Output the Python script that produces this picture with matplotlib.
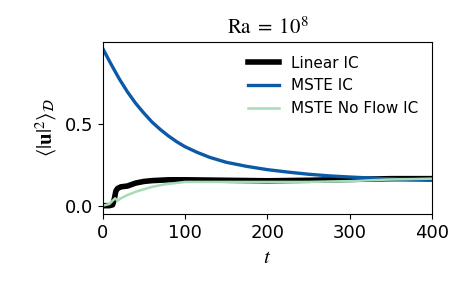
import matplotlib
matplotlib.use("Agg")
import matplotlib.pyplot as plt

plt.rcParams["mathtext.fontset"] = "stix"

# values
t_lin = [0, 8, 12, 14, 16, 18, 22, 30, 40, 50, 60, 80, 100, 150, 200, 250, 300, 350, 400]
u_lin = [0.0, 0.0, 0.005, 0.04, 0.09, 0.105, 0.115, 0.12, 0.138, 0.148, 0.153, 0.158, 0.158, 0.155, 0.152, 0.155, 0.16, 0.165, 0.165]

t_mste = [0, 10, 20, 30, 40, 50, 60, 70, 80, 90, 100, 115, 130, 150, 175, 200, 225, 250, 275, 300, 350, 400]
u_mste = [0.96, 0.865, 0.775, 0.695, 0.625, 0.565, 0.51, 0.465, 0.425, 0.39, 0.36, 0.325, 0.295, 0.265, 0.24, 0.22, 0.205, 0.192, 0.182, 0.175, 0.163, 0.155]

t_noflow = [0, 8, 12, 15, 18, 22, 30, 40, 50, 60, 75, 100, 150, 200, 250, 300, 350, 400]
u_noflow = [0.0, 0.01, 0.03, 0.045, 0.03, 0.045, 0.065, 0.085, 0.10, 0.115, 0.13, 0.145, 0.145, 0.145, 0.145, 0.15, 0.16, 0.165]

fig, ax = plt.subplots(figsize=(4.67, 2.89), dpi=100)
ax.plot(t_lin, u_lin, color="black", lw=4, label="Linear IC")
ax.plot(t_mste, u_mste, color="#0b5aa6", lw=2.4, label="MSTE IC")
ax.plot(t_noflow, u_noflow, color="#a6dcb5", lw=1.8, label="MSTE No Flow IC")

ax.set_xlim(0, 400)
ax.set_ylim(-0.05, 1.0)
ax.set_xticks([0, 100, 200, 300, 400])
ax.set_yticks([0.0, 0.5])
ax.tick_params(labelsize=13)
ax.set_xlabel(r"$t$", fontsize=15)
ax.set_ylabel(r"$\langle |\mathbf{u}|^2 \rangle_{\mathcal{D}}$", fontsize=15)
ax.set_title(r"$\mathrm{Ra}\;=\;10^8$", fontsize=15)
ax.legend(loc="upper right", frameon=False, fontsize=11, handlelength=2.0)

fig.subplots_adjust(left=0.22, right=0.925, top=0.855, bottom=0.26)
fig.savefig("out.png", dpi=100)
